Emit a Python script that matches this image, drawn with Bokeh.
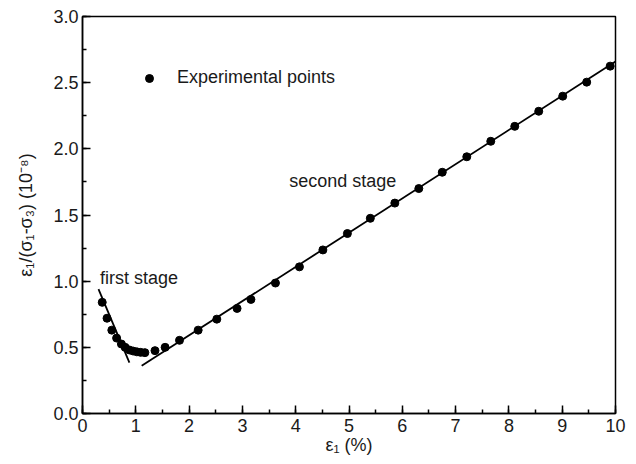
from bokeh.plotting import figure
from bokeh.models import (Range1d, SingleIntervalTicker, NumeralTickFormatter,
                          Legend, LegendItem, Label)
from bokeh.embed import file_html
from bokeh.resources import INLINE

# Experimental points
strain = [0.37, 0.46, 0.55, 0.64, 0.73, 0.80, 0.88, 0.95, 1.02, 1.09, 1.17,
          1.36, 1.55, 1.82, 2.17, 2.52, 2.90, 3.16, 3.62, 4.07, 4.51, 4.97,
          5.40, 5.86, 6.31, 6.75, 7.21, 7.66, 8.11, 8.56, 9.01, 9.46, 9.90]
ratio = [0.84, 0.72, 0.63, 0.57, 0.525, 0.50, 0.48, 0.472, 0.466, 0.462, 0.46,
         0.475, 0.50, 0.553, 0.63, 0.713, 0.794, 0.862, 0.986, 1.108, 1.236, 1.36,
         1.475, 1.59, 1.70, 1.823, 1.94, 2.057, 2.17, 2.284, 2.398, 2.504, 2.625]

# Fitted lines (end points)
first_x = [0.30, 0.88]
first_y = [0.94, 0.385]
second_x = [1.11, 10.0]
second_y = [0.36, 2.66]

FONT = "Liberation Sans"
FS = "18px"

p = figure(width=636, height=464, output_backend="svg", toolbar_location=None,
           x_range=Range1d(0, 10), y_range=Range1d(0, 3.0),
           min_border_left=82, min_border_right=21, min_border_top=16,
           min_border_bottom=51)
p.grid.visible = False
p.outline_line_color = "black"
p.outline_line_width = 1.5
p.background_fill_color = "white"
p.border_fill_color = "white"

p.xaxis.ticker = SingleIntervalTicker(interval=1, num_minor_ticks=2)
p.yaxis.ticker = SingleIntervalTicker(interval=0.5, num_minor_ticks=2)
p.yaxis.formatter = NumeralTickFormatter(format="0.0")

for ax in (p.xaxis[0], p.yaxis[0]):
    ax.axis_line_color = "black"
    ax.axis_line_width = 1.5
    ax.major_tick_in = 8
    ax.major_tick_out = 0
    ax.minor_tick_in = 4
    ax.minor_tick_out = 0
    ax.major_tick_line_width = 1.5
    ax.minor_tick_line_width = 1.5
    ax.major_tick_line_color = "black"
    ax.minor_tick_line_color = "black"
    ax.major_label_text_font = FONT
    ax.major_label_text_font_size = FS
    ax.major_label_text_color = "#1a1a1a"
    ax.axis_label_text_font = FONT
    ax.axis_label_text_font_size = FS
    ax.axis_label_text_font_style = "normal"
    ax.axis_label_text_color = "#1a1a1a"

p.xaxis.major_label_standoff = 5
p.yaxis.major_label_standoff = 4
p.xaxis.axis_label = "ε₁ (%)"
p.yaxis.axis_label = "ε₁/(σ₁-σ₃) (10⁻⁸)"
p.xaxis.axis_label_standoff = 0
p.yaxis.axis_label_standoff = 14

p.line(first_x, first_y, line_color="black", line_width=1.8)
p.line(second_x, second_y, line_color="black", line_width=1.8)
pts = p.scatter(strain, ratio, marker="circle", size=8, fill_color="black",
                line_color="black")

legend = Legend(items=[LegendItem(label="Experimental points", renderers=[pts])],
                location=(56, 325), padding=0, margin=0, spacing=0,
                border_line_color=None, background_fill_alpha=0,
                label_text_font=FONT, label_text_font_size=FS,
                label_text_color="#1a1a1a", label_standoff=17,
                glyph_width=22, glyph_height=20)
p.add_layout(legend)

p.add_layout(Label(x=0.33, y=1.027, text="first stage", text_font=FONT,
                   text_font_size=FS, text_baseline="middle", text_color="#1a1a1a"))
p.add_layout(Label(x=3.88, y=1.76, text="second stage", text_font=FONT,
                   text_font_size=FS, text_baseline="middle", text_color="#1a1a1a"))

open("out.html", "w").write(file_html(p, INLINE))
